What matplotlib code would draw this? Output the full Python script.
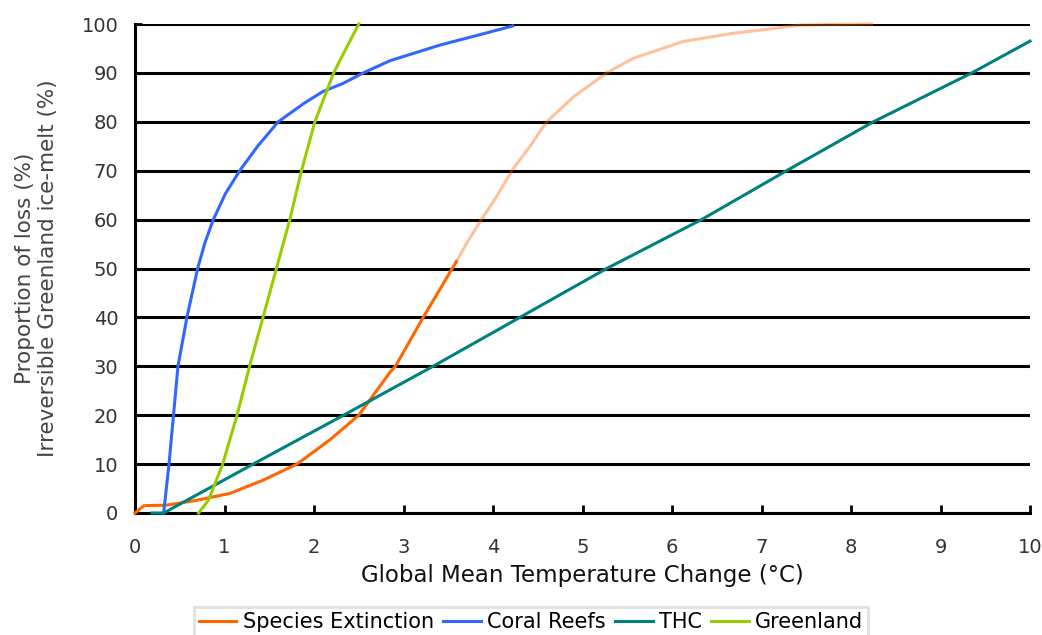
import matplotlib
matplotlib.use("Agg")
import matplotlib.pyplot as plt

# ---- data ----
species_x = [0, 0.1, 0.35, 0.69, 1.06, 1.43, 1.81, 2.18, 2.5, 2.85, 2.91, 3.22, 3.59]
species_y = [0, 1.5, 1.6, 2.6, 4.0, 6.7, 10, 15, 20, 28.8, 30, 40, 51.4]

species_proj_x = [3.59, 3.72, 3.87, 4.04, 4.21, 4.41, 4.60, 4.90, 5.27, 5.57, 6.12, 6.68, 7.06, 7.43, 8.23]
species_proj_y = [51.4, 55.6, 60, 64.7, 70, 74.9, 80, 85.1, 90, 93, 96.4, 98.1, 98.9, 99.8, 100]

coral_x = [0.32, 0.38, 0.43, 0.48, 0.58, 0.70, 0.78, 0.875, 1.01, 1.17, 1.37, 1.60, 1.89, 2.10, 2.33, 2.55, 2.85, 3.41, 3.85, 4.22]
coral_y = [0, 10, 20, 30, 40, 50, 55.2, 60, 65.3, 70, 75, 80, 83.8, 86.2, 87.9, 90, 92.5, 95.7, 97.8, 99.6]

thc_x = [0.19, 0.32, 1.32, 2.33, 3.33, 5.27, 6.33, 7.28, 8.25, 9.35, 10]
thc_y = [0, 0, 10, 20, 30, 50, 60, 70, 80, 90, 96.5]

greenland_x = [0.71, 0.82, 0.98, 1.14, 1.28, 1.43, 1.58, 1.73, 1.86, 2.01, 2.22, 2.37, 2.50]
greenland_y = [0, 2.6, 10, 20, 30, 40, 50, 60, 70, 80, 90, 95.4, 100]

x_ticks = list(range(0, 11))
y_ticks = list(range(0, 101, 10))

labels = ["Species Extinction", "Coral Reefs", "THC", "Greenland"]
colors = ["#FF6600", "#3366FF", "#008080", "#99CC00"]

# ---- figure ----
fig = plt.figure(figsize=(10.42, 6.35), dpi=100)
ax = fig.add_axes([135 / 1042, 1 - 513 / 635, (1030 - 135) / 1042, (513 - 24) / 635])

lw = 2.2
ax.plot(species_proj_x, species_proj_y, color=colors[0], alpha=0.4, lw=lw, clip_on=False, zorder=3)
ax.plot(species_x, species_y, color=colors[0], lw=lw, clip_on=False, zorder=4, label=labels[0])
ax.plot(coral_x, coral_y, color=colors[1], lw=lw, clip_on=False, zorder=4, label=labels[1])
ax.plot(thc_x, thc_y, color=colors[2], lw=lw, clip_on=False, zorder=4, label=labels[2])
ax.plot(greenland_x, greenland_y, color=colors[3], lw=lw, clip_on=False, zorder=4, label=labels[3])

ax.set_xlim(0, 10)
ax.set_ylim(0, 100)
ax.set_xticks(x_ticks)
ax.set_yticks(y_ticks)

ax.set_axisbelow(True)
ax.yaxis.grid(True, color="black", lw=2.2)
ax.xaxis.grid(False)

for s in ("top", "right"):
    ax.spines[s].set_visible(False)
for s in ("left", "bottom"):
    ax.spines[s].set_color("black")
    ax.spines[s].set_linewidth(2.2)

ax.tick_params(axis="x", direction="in", length=6, width=2, pad=18,
               labelsize=14, labelcolor="#333333", color="black")
ax.tick_params(axis="y", direction="in", length=5, width=2, pad=12,
               labelsize=14, labelcolor="#333333", color="black")

ax.set_xlabel("Global Mean Temperature Change (°C)", fontsize=16.5, color="#111111", labelpad=5)
ax.set_ylabel("Proportion of loss (%)\nIrreversible Greenland ice-melt (%)",
              fontsize=15.5, color="#444444", linespacing=1.2)
ax.yaxis.set_label_coords(-0.086, 0.5)

leg = fig.legend(loc="upper center", bbox_to_anchor=(531 / 1042, 1 - 607 / 635),
                 ncol=4, fontsize=15, frameon=True, fancybox=False,
                 handlelength=1.8, handletextpad=0.3, columnspacing=0.45,
                 borderpad=0.25, borderaxespad=0)
leg.get_frame().set_edgecolor("#D9D9D9")
leg.get_frame().set_linewidth(2)

fig.savefig("out.png", dpi=100)
